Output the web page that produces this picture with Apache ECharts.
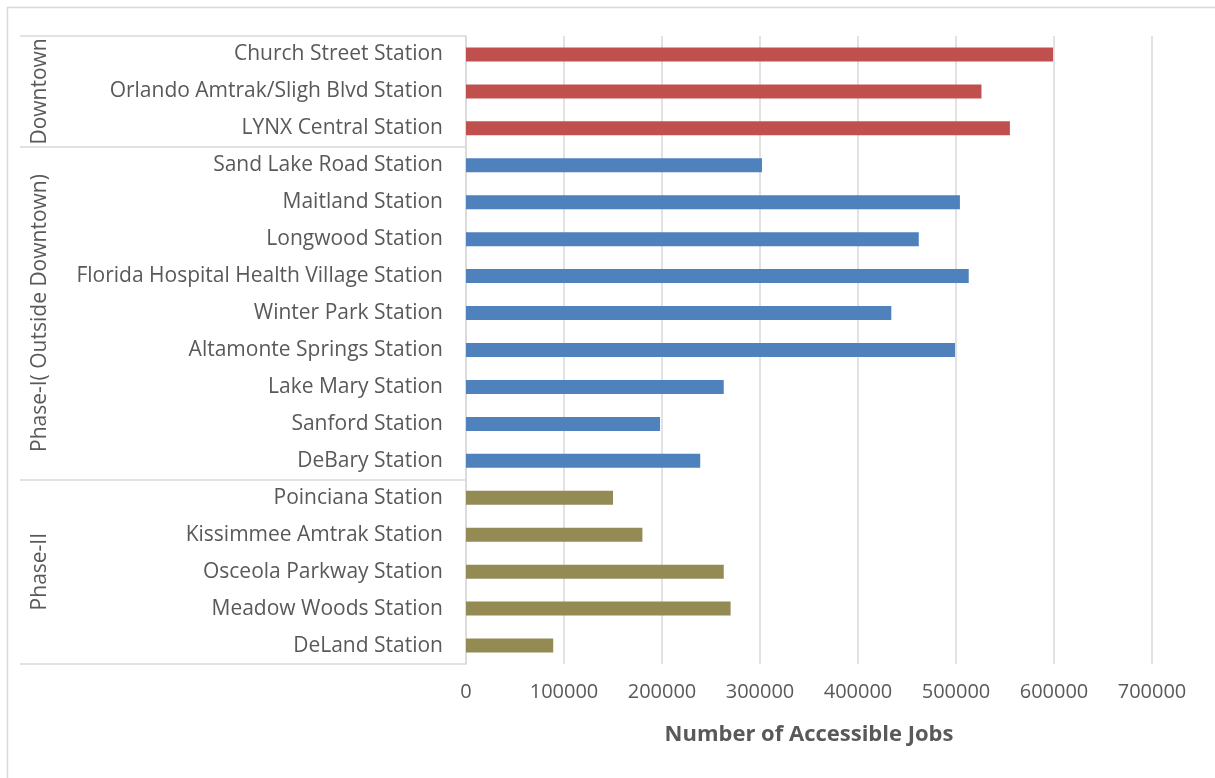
<!DOCTYPE html>
<html>
<head>
<meta charset="utf-8">
<script src="https://cdn.jsdelivr.net/npm/echarts@6/dist/echarts.min.js"></script>
<style>
html,body{margin:0;padding:0;background:#fff;}
#chart{width:1215px;height:778px;}
</style>
</head>
<body>
<div id="chart"></div>
<script>
// ---- data ----
const downtownStations = ['Church Street Station', 'Orlando Amtrak/Sligh Blvd Station', 'LYNX Central Station'];
const downtownJobs = [599000, 526000, 555000];

const phase1Stations = ['Sand Lake Road Station', 'Maitland Station', 'Longwood Station',
  'Florida Hospital Health Village Station', 'Winter Park Station', 'Altamonte Springs Station',
  'Lake Mary Station', 'Sanford Station', 'DeBary Station'];
const phase1Jobs = [302000, 504000, 462000, 513000, 434000, 499000, 263000, 198000, 239000];

const phase2Stations = ['Poinciana Station', 'Kissimmee Amtrak Station', 'Osceola Parkway Station',
  'Meadow Woods Station', 'DeLand Station'];
const phase2Jobs = [150000, 180000, 263000, 270000, 89000];

const groupNames = ['Downtown', 'Phase-I( Outside Downtown)', 'Phase-II'];
const xTicks = [0, 100000, 200000, 300000, 400000, 500000, 600000, 700000];
const axisTitle = 'Number of Accessible Jobs';

// ---- build ----
const groupColors = ['#C0504D', '#4F81BD', '#948A54'];
const groups = [
  { stations: downtownStations, jobs: downtownJobs },
  { stations: phase1Stations, jobs: phase1Jobs },
  { stations: phase2Stations, jobs: phase2Jobs }
];
const categories = [];
const barData = [];
const boundaries = [0];
const groupCenters = [];
groups.forEach((g, gi) => {
  const start = categories.length;
  g.stations.forEach((s, i) => {
    categories.push(s);
    barData.push({ value: g.jobs[i], itemStyle: { color: groupColors[gi] } });
  });
  boundaries.push(categories.length);
  groupCenters.push((start + categories.length) / 2);
});

const FONT = 'Open Sans';
const TXT = '#595959';
const GRID_LEFT = 466;
const chart = echarts.init(document.getElementById('chart'), null, { renderer: 'canvas' });

chart.setOption({
  backgroundColor: '#ffffff',
  animation: false,
  textStyle: { fontFamily: FONT },
  graphic: [{
    type: 'polyline',
    shape: { points: [[7.5, 1000], [7.5, 7.5], [1300, 7.5]] },
    style: { stroke: '#d9d9d9', lineWidth: 1.5, fill: null },
    silent: true
  }],
  grid: { left: GRID_LEFT, right: 63, top: 36, bottom: 114, containLabel: false },
  xAxis: {
    type: 'value',
    min: xTicks[0],
    max: xTicks[xTicks.length - 1],
    interval: xTicks[1] - xTicks[0],
    axisLine: { show: false },
    axisTick: { show: false },
    splitLine: { show: true, lineStyle: { color: '#d9d9d9', width: 1.5 } },
    axisLabel: {
      color: TXT, fontSize: 20, fontFamily: FONT, margin: 18,
      formatter: function (v) { return String(v); }
    },
    name: axisTitle,
    nameLocation: 'middle',
    nameGap: 60,
    nameTextStyle: { color: TXT, fontSize: 22, fontWeight: 'bold', fontFamily: FONT }
  },
  yAxis: [{
    type: 'category',
    data: categories,
    inverse: true,
    axisLine: { show: true, lineStyle: { color: '#d9d9d9', width: 1.5 } },
    axisTick: { show: false },
    splitLine: { show: false },
    axisLabel: { color: TXT, fontSize: 21, fontFamily: FONT, margin: 23, padding: [4, 0, 0, 0] }
  }, {
    type: 'value',
    min: 0,
    max: categories.length,
    inverse: true,
    position: 'left',
    offset: GRID_LEFT - 20,
    axisLine: { show: false },
    splitLine: { show: false },
    axisTick: {
      show: true,
      inside: true,
      length: GRID_LEFT - 20,
      customValues: boundaries,
      lineStyle: { color: '#d9d9d9', width: 1.5 }
    },
    axisLabel: {
      show: true,
      inside: true,
      rotate: 90,
      margin: 10,
      customValues: groupCenters,
      formatter: function (v) {
        const idx = groupCenters.indexOf(v);
        return idx >= 0 ? groupNames[idx] : '';
      },
      color: TXT, fontSize: 21, fontFamily: FONT
    }
  }],
  series: [{
    type: 'bar',
    yAxisIndex: 0,
    data: barData,
    barWidth: 14
  }]
});
</script>
</body>
</html>
